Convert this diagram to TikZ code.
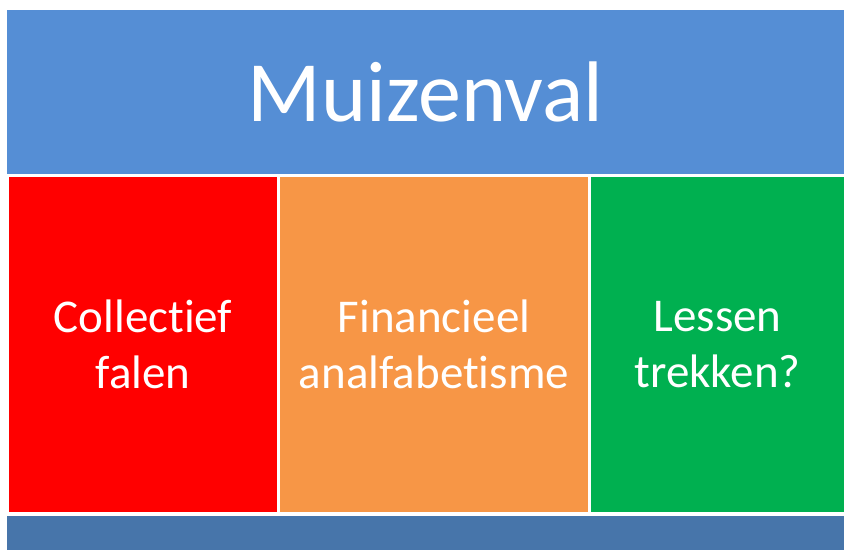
\documentclass[tikz,border=0pt]{standalone}
\usepackage{fontspec}
\setmainfont[RawFeature={-liga}]{Carlito}
\usepackage{xcolor}
\definecolor{titleblue}{RGB}{85,142,213}
\definecolor{barblue}{RGB}{71,117,170}
\definecolor{panelred}{RGB}{255,0,0}
\definecolor{panelorange}{RGB}{247,150,70}
\definecolor{panelgreen}{RGB}{0,176,80}
\tikzset{
  panel/.style={anchor=north west, inner sep=0pt, outer sep=0pt, draw=none,
    text=white, align=center},
  paneltext/.style={font=\fontsize{47}{56}\selectfont}
}

\begin{document}
\begin{tikzpicture}[x=1pt,y=-1pt]
        \useasboundingbox[fill=white] (0,0) rectangle (844,550);
        % title bar
        \node[panel, fill=titleblue, minimum width=837pt, minimum height=164pt,
          font=\fontsize{86}{94}\selectfont] (muizenval) at (7,10) {Muizenval};
        % three columns
        \node[panel, paneltext, fill=panelred, minimum width=268pt, minimum height=335pt]
          (collectief) at (9,177) {Collectief\\falen};
        \node[panel, paneltext, fill=panelorange, minimum width=308pt, minimum height=335pt]
          (financieel) at (280,177) {Financieel\\analfabetisme};
        \node[panel, paneltext, fill=panelgreen, minimum width=253pt, minimum height=335pt]
          (lessen) at (591,177) {Lessen\\trekken?};
        % bottom bar
        \node[panel, fill=barblue, minimum width=837pt, minimum height=34pt] (onderbalk) at (7,516) {};
    \end{tikzpicture}
\end{document}
